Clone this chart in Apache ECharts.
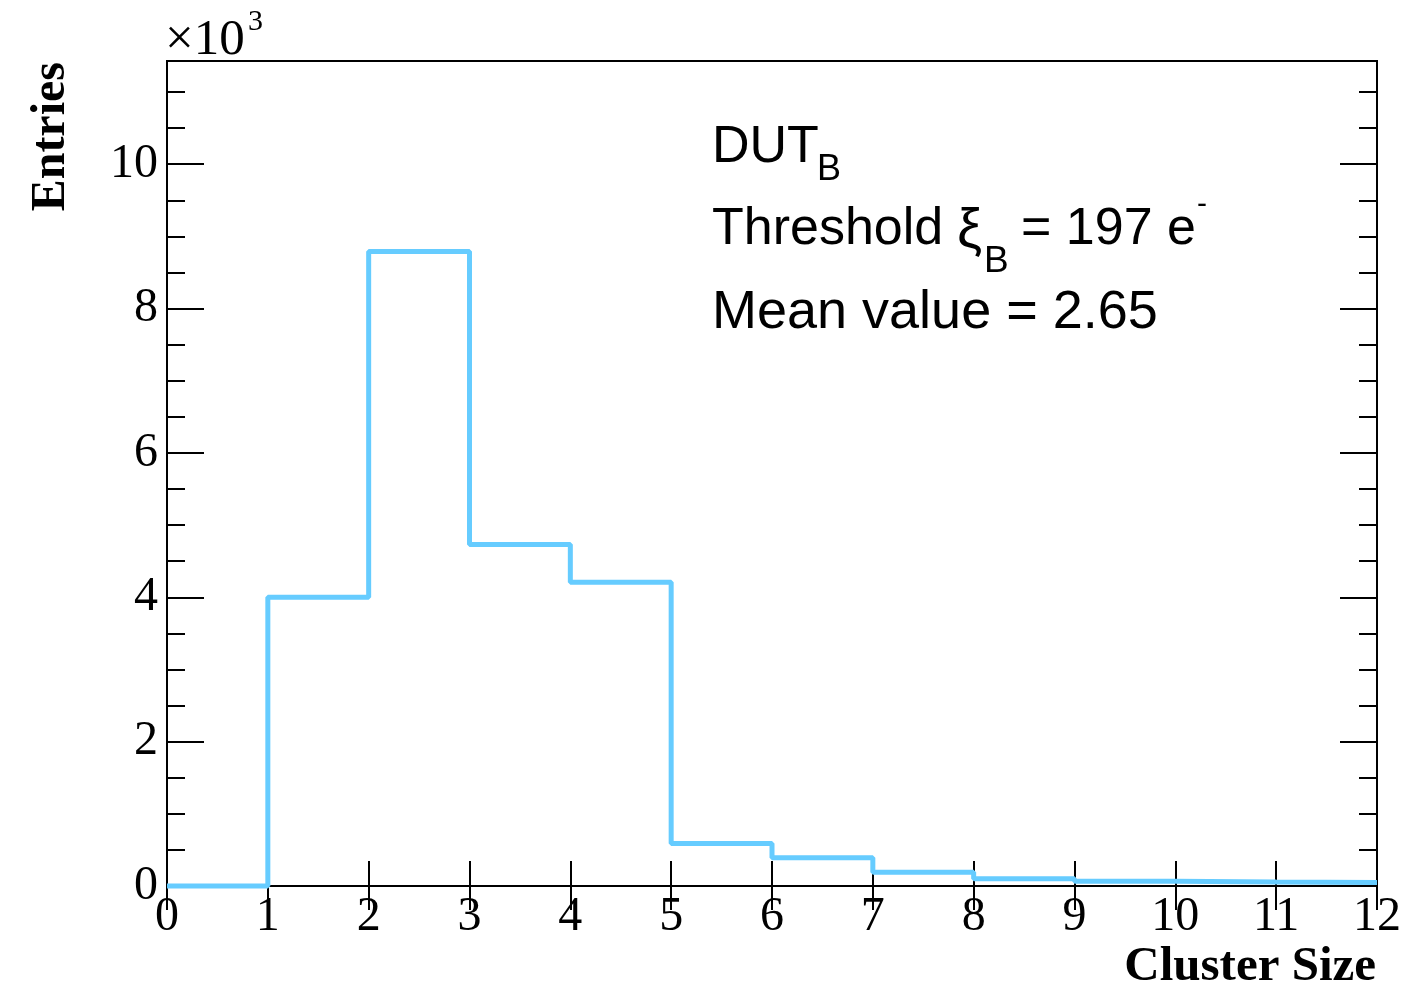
<!DOCTYPE html>
<html>
<head>
<meta charset="utf-8">
<script src="https://cdn.jsdelivr.net/npm/echarts@6/dist/echarts.min.js"></script>
<style>
html,body{margin:0;padding:0;background:#fff;}
#c{width:1404px;height:991px;}
</style>
</head>
<body>
<div id="c"></div>
<script>
// Cluster size histogram (entries in units of 10^3)
const binEdges = [0,1,2,3,4,5,6,7,8,9,10,11,12];
const entries = [0, 4.00, 8.79, 4.73, 4.21, 0.59, 0.39, 0.19, 0.10, 0.065, 0.055, 0.05];
const xTickLabels = ['0','1','2','3','4','5','6','7','8','9','10','11','12'];
const yTickLabels = ['0','2','4','6','8','10'];

const stepData = [];
for (let i = 0; i < entries.length; i++) stepData.push([binEdges[i], entries[i]]);
stepData.push([binEdges[binEdges.length-1], entries[entries.length-1]]);

const chart = echarts.init(document.getElementById('c'), null, {renderer:'canvas'});
const serif = 'Liberation Serif';
const black = '#000';
const Y_MAX = 11.43;

function yAxisDef(pos, interval, len, labels) {
  return {
    type:'value', position:pos, min:0, max:Y_MAX, interval:interval,
    axisLine:{show:labels, lineStyle:{color:black, width:2}},
    axisTick:{show:true, inside:true, length:len, lineStyle:{color:black, width:2}},
    axisLabel:{show:labels && pos==='left', margin:9, fontFamily:serif, fontSize:48, color:black,
      formatter:function(v){ const k = Math.round(v/2); return Math.abs(v-2*k)<1e-6 && k>=0 && k<yTickLabels.length ? yTickLabels[k] : ''; }},
    splitLine:{show:false}
  };
}

chart.setOption({
  animation:false,
  grid:{left:167, top:61, width:1210, height:825, show:true, borderColor:black, borderWidth:2, backgroundColor:'transparent'},
  xAxis:[
    {type:'value', position:'bottom', min:0, max:12, interval:1,
     axisLine:{lineStyle:{color:black, width:2}},
     axisTick:{inside:true, length:25, lineStyle:{color:black, width:2}},
     axisLabel:{margin:7, fontFamily:serif, fontSize:48, color:black,
       formatter:function(v){ const k=Math.round(v); return xTickLabels[k] !== undefined ? xTickLabels[k] : ''; }},
     splitLine:{show:false}},
    {type:'value', position:'top', min:0, max:12, interval:1,
     axisLine:{lineStyle:{color:black, width:2}},
     axisTick:{inside:true, length:24, lineStyle:{color:black, width:2}},
     axisLabel:{show:false}, splitLine:{show:false}}
  ],
  yAxis:[
    yAxisDef('left', 2, 37, true),
    yAxisDef('left', 0.5, 18, false),
    yAxisDef('right', 2, 37, true),
    yAxisDef('right', 0.5, 18, false)
  ],
  series:[{
    type:'line', step:'end', xAxisIndex:0, yAxisIndex:0,
    data:stepData, symbol:'none', clip:false,
    lineStyle:{color:'#66ccff', width:5}
  }],
  graphic:[
    {type:'text', x:52, y:62, rotation:Math.PI/2,
     style:{text:'Entries', font:'bold 48px "Liberation Serif"', fill:black, align:'right', verticalAlign:'middle'}},
    {type:'text', x:1376, y:967,
     style:{text:'Cluster Size', font:'bold 49px "Liberation Serif"', fill:black, align:'right', verticalAlign:'middle'}},
    {type:'text', x:165, y:41,
     style:{text:'\u00d710', font:'51px "Liberation Serif"', fill:black, align:'left', verticalAlign:'middle'}},
    {type:'text', x:248, y:22,
     style:{text:'3', font:'30px "Liberation Serif"', fill:black, align:'left', verticalAlign:'middle'}},
    {type:'text', x:712, y:148,
     style:{text:'DUT', font:'52px "Liberation Sans"', fill:black, align:'left', verticalAlign:'middle'}},
    {type:'text', x:817, y:170,
     style:{text:'B', font:'36px "Liberation Sans"', fill:black, align:'left', verticalAlign:'middle'}},
    {type:'text', x:712, y:230,
     style:{text:'Threshold', font:'52px "Liberation Sans"', fill:black, align:'left', verticalAlign:'middle'}},
    {type:'text', x:957, y:232,
     style:{text:'\u03be', font:'56px "Liberation Sans"', fill:black, align:'left', verticalAlign:'middle'}},
    {type:'text', x:984, y:262,
     style:{text:'B', font:'37px "Liberation Sans"', fill:black, align:'left', verticalAlign:'middle'}},
    {type:'text', x:1021, y:230,
     style:{text:'= 197 e', font:'52px "Liberation Sans"', fill:black, align:'left', verticalAlign:'middle'}},
    {type:'text', x:1197, y:205,
     style:{text:'-', font:'30px "Liberation Sans"', fill:black, align:'left', verticalAlign:'middle'}},
    {type:'text', x:712, y:313,
     style:{text:'Mean value = 2.65', font:'54px "Liberation Sans"', fill:black, align:'left', verticalAlign:'middle'}}
  ]
});
</script>
</body>
</html>
